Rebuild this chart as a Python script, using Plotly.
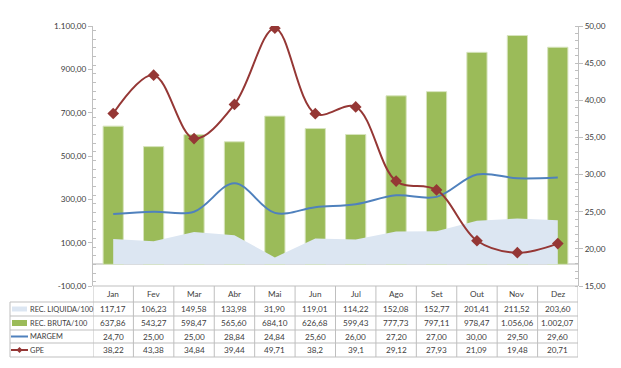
import plotly.graph_objects as go

months = ["Jan", "Fev", "Mar", "Abr", "Mai", "Jun", "Jul", "Ago", "Set", "Out", "Nov", "Dez"]
rec_liquida = [117.17, 106.23, 149.58, 133.98, 31.90, 119.01, 114.22, 152.08, 152.77, 201.41, 211.52, 203.60]
rec_bruta = [637.86, 543.27, 598.47, 565.60, 684.10, 626.68, 599.43, 777.73, 797.11, 978.47, 1056.06, 1002.07]
margem = [24.70, 25.00, 25.00, 28.84, 24.84, 25.60, 26.00, 27.20, 27.00, 30.00, 29.50, 29.60]
gpe = [38.22, 43.38, 34.84, 39.44, 49.71, 38.2, 39.1, 29.12, 27.93, 21.09, 19.48, 20.71]

left_ticks = [-100, 100, 300, 500, 700, 900, 1100]
right_ticks = [15, 20, 25, 30, 35, 40, 45, 50]

series_names = ["REC. LIQUIDA/100", "REC. BRUTA/100", "MARGEM", "GPE"]

C_AREA = "#dce6f2"
C_BAR = "#9bbb59"
C_MARG = "#4f81bd"
C_GPE = "#953735"
C_GRID = "#bfbfbf"
C_TEXT = "#404040"
FONT = "Lato"
FS = 8.2
FS_LABEL = 7.4

W, H = 621, 368
L, R, T, B = 93, 43, 26, 82
PW, PH = W - L - R, H - T - B


def br(v, dec=2):
    s = f"{v:,.{dec}f}"
    return s.replace(",", "X").replace(".", ",").replace("X", ".")


def br_raw(v):
    return str(v).replace(".", ",")


def px_x(px):
    return (px - L) / PW


def px_y(py):
    return (T + PH - py) / PH


fig = go.Figure()
fig.add_trace(go.Scatter(x=months, y=rec_liquida, name=series_names[0], mode="lines",
                         line=dict(width=0, color=C_AREA), fill="tozeroy", fillcolor=C_AREA,
                         yaxis="y"))
fig.add_trace(go.Bar(x=months, y=rec_bruta, name=series_names[1], marker=dict(color=C_BAR,
                     line=dict(color="#d7e4bd", width=1)), width=0.5, yaxis="y"))
fig.add_trace(go.Scatter(x=months, y=margem, name=series_names[2], mode="lines",
                         line=dict(color=C_MARG, width=2, shape="spline", smoothing=1.0),
                         yaxis="y2"))
fig.add_trace(go.Scatter(x=months, y=gpe, name=series_names[3], mode="lines+markers",
                         line=dict(color=C_GPE, width=2, shape="spline", smoothing=1.0),
                         marker=dict(symbol="diamond", size=9, color=C_GPE),
                         yaxis="y2"))

fig.update_layout(
    width=W, height=H,
    margin=dict(l=L, r=R, t=T, b=B, pad=0),
    paper_bgcolor="white", plot_bgcolor="white",
    showlegend=False,
    font=dict(family=FONT, size=FS, color=C_TEXT),
    xaxis=dict(type="category", categoryorder="array", categoryarray=months,
               range=[-0.5, 11.5], showticklabels=False, ticks="", showline=False,
               showgrid=False, zeroline=False),
    yaxis=dict(range=[-100, 1100], tickvals=left_ticks, ticktext=[br(v) for v in left_ticks],
               showgrid=False, zeroline=True, zerolinecolor="#d9d9d9", zerolinewidth=2,
               showline=True, linecolor=C_GRID, linewidth=1,
               ticks="outside", ticklen=4, tickcolor=C_GRID,
               minor=dict(dtick=40, ticks="inside", ticklen=3, tickcolor=C_GRID),
               tickfont=dict(family=FONT, size=FS, color=C_TEXT)),
    yaxis2=dict(range=[15, 50], overlaying="y", side="right", tickvals=right_ticks,
                ticktext=[br(v) for v in right_ticks], showgrid=False, zeroline=False,
                showline=True, linecolor=C_GRID, linewidth=1,
                ticks="outside", ticklen=4, tickcolor=C_GRID,
                minor=dict(dtick=1, ticks="inside", ticklen=3, tickcolor=C_GRID),
                tickfont=dict(family=FONT, size=FS, color=C_TEXT)),
)

# ---- data table ----
shapes = []
annots = []
row_edges = [286, 302, 316, 330, 343, 357]
label_left = 10
line = dict(color=C_GRID, width=1)

for i, py in enumerate(row_edges):
    x0 = px_x(label_left) if i >= 1 else 0
    shapes.append(dict(type="line", xref="paper", yref="paper", x0=x0, x1=1,
                       y0=px_y(py), y1=px_y(py), line=line))
for k in range(len(months) + 1):
    shapes.append(dict(type="line", xref="x", yref="paper", x0=k - 0.5, x1=k - 0.5,
                       y0=px_y(row_edges[0]), y1=px_y(row_edges[-1]), line=line))
shapes.append(dict(type="line", xref="paper", yref="paper", x0=px_x(label_left), x1=px_x(label_left),
                   y0=px_y(row_edges[1]), y1=px_y(row_edges[-1]), line=line))

centers = [(row_edges[i] + row_edges[i + 1]) / 2 for i in range(len(row_edges) - 1)]

for m in months:
    annots.append(dict(x=m, xref="x", y=px_y(centers[0]), yref="paper", text=m,
                       showarrow=False, xanchor="center", yanchor="middle"))

rows = [
    [br(v) for v in rec_liquida],
    [br(v) for v in rec_bruta],
    [br(v) for v in margem],
    [br_raw(v) for v in gpe],
]
for r, vals in enumerate(rows):
    cy = px_y(centers[r + 1])
    for m, t in zip(months, vals):
        annots.append(dict(x=m, xref="x", y=cy, yref="paper", text=t,
                           showarrow=False, xanchor="center", yanchor="middle"))
    annots.append(dict(x=px_x(28), xref="paper", y=cy, yref="paper", text=series_names[r],
                       showarrow=False, xanchor="left", yanchor="middle",
                       font=dict(family=FONT, size=FS_LABEL, color=C_TEXT)))

# legend keys
cy = centers[1]
shapes.append(dict(type="rect", xref="paper", yref="paper", x0=px_x(12), x1=px_x(27),
                   y0=px_y(cy - 2.5), y1=px_y(cy + 2.5), fillcolor=C_AREA, line=dict(width=0)))
cy = centers[2]
shapes.append(dict(type="rect", xref="paper", yref="paper", x0=px_x(12), x1=px_x(27),
                   y0=px_y(cy - 3), y1=px_y(cy + 3), fillcolor=C_BAR, line=dict(width=0)))
cy = centers[3]
shapes.append(dict(type="line", xref="paper", yref="paper", x0=px_x(11), x1=px_x(28),
                   y0=px_y(cy), y1=px_y(cy), line=dict(color=C_MARG, width=2)))
cy = centers[4]
shapes.append(dict(type="line", xref="paper", yref="paper", x0=px_x(11), x1=px_x(28),
                   y0=px_y(cy), y1=px_y(cy), line=dict(color=C_GPE, width=2)))
mx = 19.5
shapes.append(dict(type="path", xref="paper", yref="paper",
                   path=f"M {px_x(mx - 3)} {px_y(cy)} L {px_x(mx)} {px_y(cy - 3)} "
                        f"L {px_x(mx + 3)} {px_y(cy)} L {px_x(mx)} {px_y(cy + 3)} Z",
                   fillcolor=C_GPE, line=dict(width=0)))

fig.update_layout(shapes=shapes, annotations=annots)
fig.write_html("out.html", config={"displayModeBar": False},
               post_script="document.body.style.margin='0px';document.body.style.overflow='hidden';")
